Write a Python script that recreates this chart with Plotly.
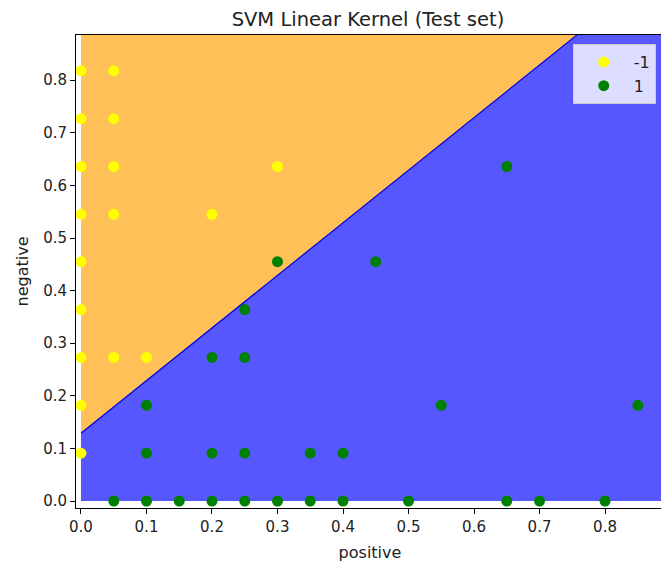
import numpy as np
import plotly.graph_objects as go

# Test-set points, class -1
neg_x = [0.0, 0.0, 0.0, 0.0, 0.0, 0.0, 0.0, 0.0, 0.0,
         0.05, 0.05, 0.05, 0.05, 0.05, 0.1, 0.2, 0.3]
neg_y = [0.818, 0.727, 0.636, 0.545, 0.455, 0.364, 0.273, 0.182, 0.091,
         0.818, 0.727, 0.636, 0.545, 0.273, 0.273, 0.545, 0.636]

# Test-set points, class 1
pos_x = [0.3, 0.25, 0.2, 0.25, 0.1, 0.1, 0.2, 0.25, 0.35, 0.4, 0.45, 0.65, 0.55, 0.85,
         0.05, 0.1, 0.15, 0.2, 0.25, 0.3, 0.35, 0.4, 0.5, 0.65, 0.7, 0.8]
pos_y = [0.455, 0.364, 0.273, 0.273, 0.182, 0.091, 0.091, 0.091, 0.091, 0.091, 0.455, 0.636, 0.182, 0.182,
         0.0, 0.0, 0.0, 0.0, 0.0, 0.0, 0.0, 0.0, 0.0, 0.0, 0.0, 0.0]

# Linear decision boundary: negative = intercept + slope * positive
boundary_intercept = 0.129
boundary_slope = 1.0

# Mesh extents of the decision surface
grid_x_min, grid_x_max = 0.0, 0.95
grid_y_min, grid_y_max = 0.0, 0.95

tick_vals = [0.0, 0.1, 0.2, 0.3, 0.4, 0.5, 0.6, 0.7, 0.8]
tick_text = ["0.0", "0.1", "0.2", "0.3", "0.4", "0.5", "0.6", "0.7", "0.8"]

ORANGE = "rgb(255,192,87)"
BLUE = "rgb(87,87,255)"

x_top = (grid_y_max - boundary_intercept) / boundary_slope
y_left = boundary_intercept + boundary_slope * grid_x_min

fig = go.Figure()

# orange region (class -1)
fig.add_trace(go.Scatter(
    x=[grid_x_min, x_top, grid_x_min, grid_x_min],
    y=[y_left, grid_y_max, grid_y_max, y_left],
    mode="lines", fill="toself", fillcolor=ORANGE,
    line=dict(width=0), showlegend=False, hoverinfo="skip"))
# blue region (class 1)
fig.add_trace(go.Scatter(
    x=[grid_x_min, grid_x_max, grid_x_max, x_top, grid_x_min, grid_x_min],
    y=[grid_y_min, grid_y_min, grid_y_max, grid_y_max, y_left, grid_y_min],
    mode="lines", fill="toself", fillcolor=BLUE,
    line=dict(width=0), showlegend=False, hoverinfo="skip"))
# boundary edge
fig.add_trace(go.Scatter(
    x=[grid_x_min, x_top], y=[y_left, grid_y_max],
    mode="lines", line=dict(color="rgb(0,0,230)", width=1.2),
    showlegend=False, hoverinfo="skip"))

fig.add_trace(go.Scatter(
    x=neg_x, y=neg_y, mode="markers", name="-1",
    marker=dict(color="#ffff00", size=11, line=dict(width=0))))
fig.add_trace(go.Scatter(
    x=pos_x, y=pos_y, mode="markers", name="1",
    marker=dict(color="#008000", size=11, line=dict(width=0))))

axis_common = dict(
    showgrid=False, zeroline=False, showline=True, linecolor="black", linewidth=1,
    mirror=True, ticks="outside", ticklen=5, tickcolor="black", tickwidth=1,
    tickfont=dict(size=15, color="#222"), automargin=False,
    tickmode="array", tickvals=tick_vals, ticktext=tick_text,
)

fig.update_layout(
    width=661, height=555,
    margin=dict(l=68, r=5, t=27, b=55),
    plot_bgcolor="white", paper_bgcolor="white",
    font=dict(family="DejaVu Sans", color="#222"),
    title=dict(text="SVM Linear Kernel (Test set)", x=0.5446, xanchor="center",
               y=0.979, yanchor="middle", font=dict(size=19.5, color="#222")),
    xaxis=dict(range=[-0.0076, 0.89],
               title=dict(text="positive", font=dict(size=16), standoff=11),
               **axis_common),
    yaxis=dict(range=[-0.0133, 0.886],
               title=dict(text="negative", font=dict(size=16), standoff=10),
               **axis_common),
    legend=dict(x=0.986, y=0.981, xanchor="right", yanchor="top",
                bgcolor="rgba(255,255,255,0.8)", bordercolor="#cccccc", borderwidth=1,
                itemwidth=50, font=dict(size=16, color="#222")),
)

fig.write_html("out.html")
